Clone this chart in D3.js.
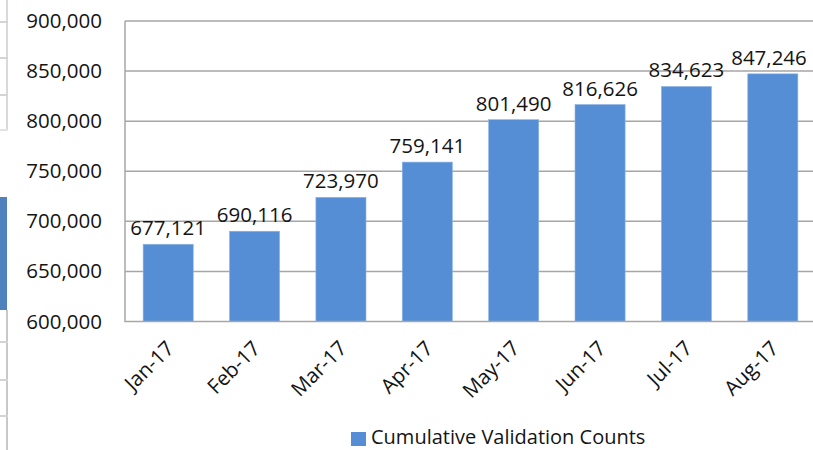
<!DOCTYPE html>
<html lang="en">
<head>
    <meta charset="UTF-8">
    <title>Cumulative Validation Counts</title>
    <script src="https://d3js.org/d3.v7.min.js"></script>
    <style>
        body {
            margin: 0;
            background: white;
            overflow: hidden;
        }
        text {
            font-family: "Open Sans", sans-serif;
            fill: #141414;
        }
    </style>
</head>
<body>
    <svg id="chart" width="813" height="450"></svg>

    <script>
        // data
        const months = ["Jan-17", "Feb-17", "Mar-17", "Apr-17", "May-17", "Jun-17", "Jul-17", "Aug-17"];
        const counts = [677121, 690116, 723970, 759141, 801490, 816626, 834623, 847246];
        const yTicks = [600000, 650000, 700000, 750000, 800000, 850000, 900000];
        const seriesName = "Cumulative Validation Counts";

        const width = 813,
              height = 450,
              plotLeft = 125,
              plotRight = 816,
              plotTop = 21,
              plotBottom = 321.5;

        const barColor = "#558ED5",
              gridColor = "#A6A6A6";

        const svg = d3.select("#chart");
        const fmt = d3.format(",");

        // bits of the spreadsheet window that show at the left edge
        const edge = svg.append("g");
        edge.append("line")
            .attr("x1", 7).attr("x2", 7).attr("y1", 0).attr("y2", 130)
            .attr("stroke", "#d9d9d9").attr("stroke-width", 2);
        edge.append("line")
            .attr("x1", 0).attr("x2", 8).attr("y1", 130).attr("y2", 130)
            .attr("stroke", "#e3e3e3").attr("stroke-width", 2);
        edge.append("line")
            .attr("x1", 7).attr("x2", 7).attr("y1", 310).attr("y2", height)
            .attr("stroke", "#c8c8c8").attr("stroke-width", 2);
        [22, 58, 95, 342, 380, 416].forEach(y => {
            edge.append("line")
                .attr("x1", 0).attr("x2", 8).attr("y1", y).attr("y2", y)
                .attr("stroke", "#d4d4d4").attr("stroke-width", 2);
        });
        edge.append("rect")
            .attr("x", 0).attr("y", 197).attr("width", 7).attr("height", 113)
            .attr("fill", "#4F81BD");

        const x = d3.scaleBand()
                    .domain(months)
                    .range([plotLeft, plotRight])
                    .paddingInner(0.42)
                    .paddingOuter(0.21);

        const y = d3.scaleLinear()
                    .domain([600000, 900000])
                    .range([plotBottom, plotTop]);

        // gridlines
        svg.append("g")
           .selectAll("line")
           .data(yTicks.slice(1))
           .join("line")
           .attr("x1", plotLeft)
           .attr("x2", plotRight)
           .attr("y1", d => y(d))
           .attr("y2", d => y(d))
           .attr("stroke", gridColor)
           .attr("stroke-width", 1.5);

        // bars
        svg.append("g")
           .selectAll("rect")
           .data(counts)
           .join("rect")
           .attr("x", (d, i) => x(months[i]))
           .attr("y", d => y(d))
           .attr("width", x.bandwidth())
           .attr("height", d => plotBottom - y(d))
           .attr("fill", barColor)
           .attr("stroke", "#8fb4e6")
           .attr("stroke-width", 0.6);

        // plot frame: left and bottom
        svg.append("path")
           .attr("d", `M${plotLeft},${plotTop}V${plotBottom}H${plotRight}`)
           .attr("fill", "none")
           .attr("stroke", gridColor)
           .attr("stroke-width", 1.5);

        // y axis labels
        const yAxis = d3.axisLeft(y)
                        .tickValues(yTicks)
                        .tickFormat(fmt)
                        .tickSize(0)
                        .tickPadding(23);
        const yg = svg.append("g")
                      .attr("transform", `translate(${plotLeft},0)`)
                      .call(yAxis);
        yg.select(".domain").remove();
        yg.selectAll("text")
          .attr("font-family", "Open Sans")
          .style("font-size", "20.5px")
          .attr("fill", "#141414");

        // x axis labels, rotated
        svg.append("g")
           .selectAll("text")
           .data(months)
           .join("text")
           .attr("text-anchor", "end")
           .attr("dy", "0.35em")
           .attr("transform", d => `translate(${x(d) + x.bandwidth() / 2 + 2},${plotBottom + 23}) rotate(-45)`)
           .style("font-size", "20.5px")
           .text(d => d);

        // data labels
        svg.append("g")
           .selectAll("text")
           .data(counts)
           .join("text")
           .attr("text-anchor", "middle")
           .attr("x", (d, i) => Math.min(x(months[i]) + x.bandwidth() / 2, width - 44))
           .attr("y", d => y(d) - 9)
           .style("font-size", "20.5px")
           .text(d => fmt(d));

        // legend
        const legend = svg.append("g");
        legend.append("rect")
              .attr("x", 351)
              .attr("y", 432)
              .attr("width", 15)
              .attr("height", 14)
              .attr("fill", barColor);
        legend.append("text")
              .attr("x", 371)
              .attr("y", 444)
              .style("font-size", "20px")
              .text(seriesName);
    </script>
</body>
</html>
